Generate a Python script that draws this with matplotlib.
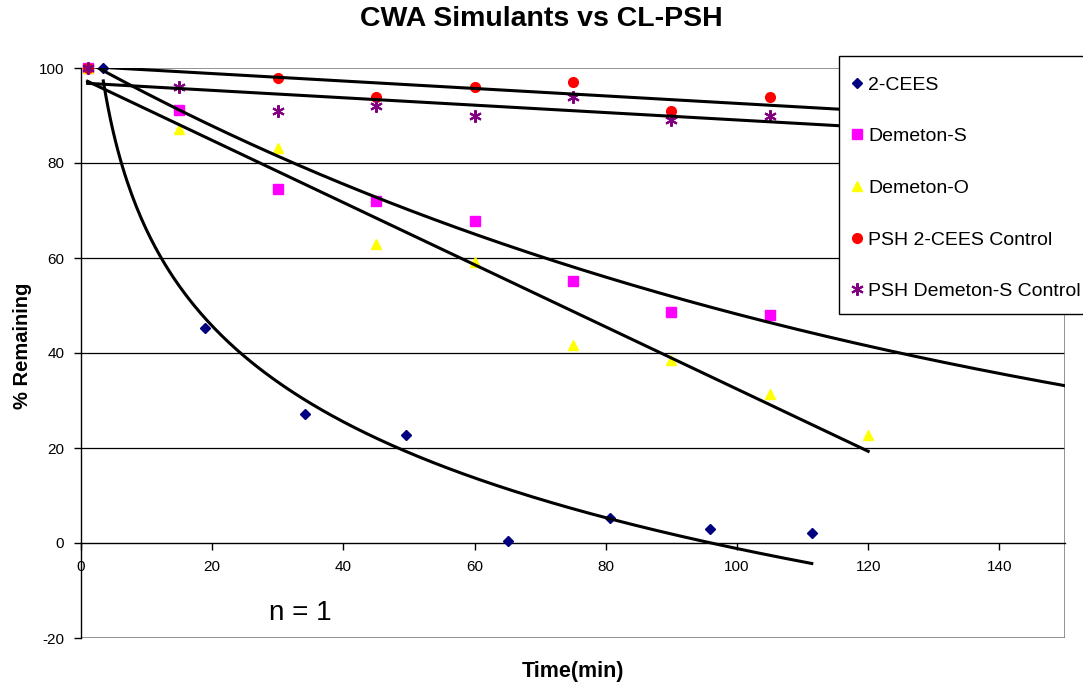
import numpy as np
import matplotlib
matplotlib.use("Agg")
import matplotlib.pyplot as plt
from matplotlib.patches import Rectangle

plt.rcParams['font.family'] = ['Liberation Sans', 'DejaVu Sans']

# ---- data ----
t_cees = [3.4, 18.9, 34.2, 49.6, 65.1, 80.6, 95.9, 111.4]
cees = [100, 45.3, 27.2, 22.8, 0.4, 5.3, 3.0, 2.1]

t_dems = [1, 15, 30, 45, 60, 75, 90, 105]
dems = [100, 91.2, 74.6, 71.9, 67.8, 55.2, 48.7, 48.1]

t_demo = [1, 15, 30, 45, 60, 75, 90, 105, 120]
demo = [100, 87.1, 83.1, 62.9, 59.2, 41.7, 38.5, 31.4, 22.7]

t_ctrl_cees = [1, 30, 45, 60, 75, 90, 105]
ctrl_cees = [100, 98.0, 94.0, 96.0, 97.0, 91.0, 94.0]

t_ctrl_dems = [1, 15, 30, 45, 60, 75, 90, 105]
ctrl_dems = [100, 96.0, 91.0, 92.0, 90.0, 94.0, 89.0, 90.0]

dems_trend = [102.0, -0.0075]        # y = A * exp(k x)
ctrl_cees_trend = [100.4, -0.0785]   # y = a + b x

labels = ['2-CEES', 'Demeton-S', 'Demeton-O', 'PSH 2-CEES Control', 'PSH Demeton-S Control']
x_ticks = [0, 20, 40, 60, 80, 100, 120, 140]
y_ticks = [-20, 0, 20, 40, 60, 80, 100]
forecast = 45  # trendline forward forecast

W, H = 1083, 687
fig = plt.figure(figsize=(W / 100, H / 100), dpi=100)
ax = fig.add_axes([81 / W, (H - 638) / H, (1065 - 81) / W, (638 - 68) / H])
ax.set_xlim(0, 150)
ax.set_ylim(-20, 100)

# gridlines
for yv in [20, 40, 60, 80]:
    ax.axhline(yv, color='black', lw=0.9, zorder=1)

# plot-area border
ax.add_patch(Rectangle((0, 0), 1, 1, transform=ax.transAxes, fill=False,
                       ec='#808080', lw=1.2, zorder=1))
for s in ['top', 'right']:
    ax.spines[s].set_visible(False)
ax.spines['left'].set_color('black')
ax.spines['left'].set_linewidth(1.0)
ax.spines['bottom'].set_position(('data', 0))
ax.spines['bottom'].set_color('black')
ax.spines['bottom'].set_linewidth(1.0)

ax.set_xticks(x_ticks)
ax.set_yticks(y_ticks)
ax.set_xticklabels([str(v) for v in x_ticks])
ax.set_yticklabels([str(v) for v in y_ticks])
ax.tick_params(axis='both', direction='out', length=5, width=1, labelsize=11, colors='black')
ax.tick_params(axis='x', pad=7)
ax.tick_params(axis='y', pad=7)

# markers
mk = dict(linestyle='none', clip_on=False, zorder=3)
h1, = ax.plot(t_cees, cees, marker='D', ms=5.5, color='#000080', mec='#000080', **mk)
h2, = ax.plot(t_dems, dems, marker='s', ms=6.5, color='#FF00FF', mec='#FF00FF', **mk)
h3, = ax.plot(t_demo, demo, marker='^', ms=7.5, color='#FFFF00', mec='#FFFF00', **mk)
h4, = ax.plot(t_ctrl_cees, ctrl_cees, marker='o', ms=7, color='#FF0000', mec='#FF0000', **mk)
h5, = ax.plot(t_ctrl_dems, ctrl_dems, marker=(6, 2, 0), ms=9, color='#800080', mec='#800080',
              mew=1.5, **mk)

# trendlines
lw = 2.2
# 2-CEES: logarithmic, fitted from the data
a, b = np.polyfit(np.log(t_cees), cees, 1)
xx = np.linspace(min(t_cees), max(t_cees), 300)
ax.plot(xx, a * np.log(xx) + b, color='black', lw=lw, zorder=4)
# Demeton-S: exponential
xx = np.linspace(min(t_dems), max(t_dems) + forecast, 300)
ax.plot(xx, dems_trend[0] * np.exp(dems_trend[1] * xx), color='black', lw=lw, zorder=4)
# Demeton-O: linear, fitted from the data
m, c = np.polyfit(t_demo, demo, 1)
xx = np.array([min(t_demo), max(t_demo)])
ax.plot(xx, m * xx + c, color='black', lw=lw, zorder=4)
# PSH 2-CEES control: linear
xx = np.array([min(t_ctrl_cees), max(t_ctrl_cees) + forecast])
ax.plot(xx, ctrl_cees_trend[0] + ctrl_cees_trend[1] * xx, color='black', lw=lw, zorder=4)
# PSH Demeton-S control: linear, fitted from the data
m, c = np.polyfit(t_ctrl_dems, ctrl_dems, 1)
xx = np.array([min(t_ctrl_dems), max(t_ctrl_dems) + forecast])
ax.plot(xx, m * xx + c, color='black', lw=lw, zorder=4)

# texts
fig.text(541 / W, 1 - 19 / H, 'CWA Simulants vs CL-PSH', ha='center', va='center',
         fontsize=20.5, fontweight='bold')
fig.text(573 / W, 1 - 671 / H, 'Time(min)', ha='center', va='center',
         fontsize=15.5, fontweight='bold')
fig.text(23 / W, 1 - 346 / H, '% Remaining', ha='center', va='center', rotation=90,
         fontsize=14.5, fontweight='bold')
fig.text(300 / W, 1 - 613 / H, 'n = 1', ha='center', va='center', fontsize=20)

# legend: frame drawn separately, extending past the right edge as in the reference
frame = Rectangle((839 / W, 1 - 314 / H), (1100 - 839) / W, (314 - 56) / H,
                  transform=fig.transFigure, facecolor='white', edgecolor='black',
                  lw=1.0, zorder=9)
fig.patches.append(frame)
leg = fig.legend([h1, h2, h3, h4, h5], labels, loc='upper left',
                 bbox_to_anchor=(852 / W, 1 - 76 / H), bbox_transform=fig.transFigure,
                 fontsize=14, frameon=False, borderpad=0, labelspacing=1.75,
                 handlelength=0.5, handletextpad=0.32, borderaxespad=0, markerscale=1.0)
leg.set_zorder(10)

fig.savefig('out.png', dpi=100)
